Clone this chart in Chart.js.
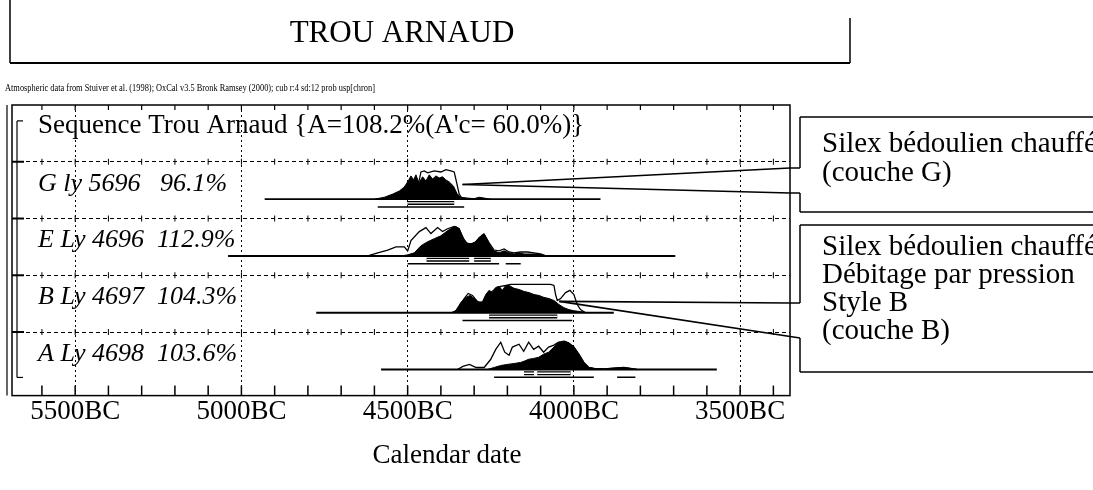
<!DOCTYPE html>
<html>
<head>
<meta charset="utf-8">
<title>Trou Arnaud</title>
<script src="https://cdn.jsdelivr.net/npm/chart.js@4.4.1/dist/chart.umd.min.js"></script>
<style>
  html, body { margin: 0; padding: 0; background: #fff; }
  #wrap { width: 1093px; height: 490px; }
</style>
</head>
<body>
<div id="wrap"><canvas id="oxcal" width="1093" height="490"></canvas></div>
<script>
// Trou Arnaud - OxCal sequence plot, redrawn

const titleText = "TROU ARNAUD";
const noteText = "Atmospheric data from Stuiver et al. (1998); OxCal v3.5 Bronk Ramsey (2000); cub r:4 sd:12 prob usp[chron]";
const seqLabel = "Sequence Trou Arnaud {A=108.2%(A'c= 60.0%)}";
const axisTitle = "Calendar date";
const tickYears = [5500, 5000, 4500, 4000, 3500];

// rows from bottom to top: A, B, E, G
const rowLabels = ["A Ly 4698  103.6%", "B Ly 4697  104.3%", "E Ly 4696  112.9%", "G ly 5696   96.1%"];

// [year BC, % of peak] - outline = unmodelled, black = modelled
const gLike = [[4480,0],[4470,40],[4460,96],[4450,100],[4440,93],[4420,100],[4400,96],[4385,104],[4370,100],[4360,96],[4355,71],[4345,18],[4335,0]];
const gPost = [[4600,0],[4570,7],[4545,18],[4525,29],[4510,43],[4500,61],[4490,82],[4482,68],[4475,86],[4466,57],[4455,79],[4445,64],[4435,86],[4425,71],[4415,82],[4405,75],[4395,79],[4385,68],[4375,61],[4362,46],[4352,21],[4342,7],[4320,4],[4300,2],[4285,7],[4270,4],[4250,0]];

const eLike = [[4620,0],[4590,11],[4560,21],[4535,32],[4510,32],[4500,18],[4490,54],[4465,86],[4445,100],[4430,79],[4410,100],[4395,86],[4380,96],[4360,104],[4345,96],[4335,64],[4320,43],[4300,43],[4285,64],[4270,75],[4255,46],[4240,21],[4225,18],[4210,25],[4195,14],[4180,11],[4160,14],[4140,14],[4120,11],[4100,7],[4085,0]];
const ePost = [[4520,0],[4500,4],[4480,11],[4460,36],[4440,50],[4420,61],[4400,71],[4380,89],[4365,100],[4355,104],[4345,96],[4335,71],[4325,46],[4310,43],[4295,50],[4280,71],[4270,79],[4260,57],[4250,32],[4240,18],[4225,11],[4210,18],[4195,11],[4180,7],[4165,11],[4150,7],[4130,7],[4110,7],[4095,4],[4080,0]];

const bLike = [[4360,0],[4345,21],[4330,50],[4318,68],[4305,61],[4290,39],[4275,36],[4262,54],[4250,71],[4235,86],[4220,93],[4205,96],[4190,100],[4170,100],[4150,100],[4130,100],[4110,100],[4090,100],[4070,100],[4060,96],[4055,64],[4050,43],[4040,50],[4025,71],[4012,79],[4000,64],[3990,29],[3980,11],[3965,0]];
const bPost = [[4370,0],[4355,7],[4340,36],[4325,54],[4312,61],[4300,50],[4285,36],[4275,39],[4265,64],[4255,79],[4245,71],[4235,89],[4225,93],[4215,79],[4205,96],[4195,96],[4180,86],[4165,82],[4150,75],[4135,71],[4120,64],[4105,61],[4090,54],[4075,50],[4060,43],[4045,29],[4030,18],[4015,11],[4000,7],[3980,4],[3960,0]];

const aLike = [[4350,0],[4334,11],[4314,18],[4294,7],[4270,7],[4250,36],[4235,71],[4220,96],[4208,61],[4195,50],[4185,79],[4165,89],[4151,64],[4136,96],[4121,71],[4106,82],[4091,61],[4076,79],[4060,86],[4047,96],[4030,100],[4015,93],[4000,79],[3985,54],[3970,25],[3955,7],[3940,4],[3910,2],[3880,5],[3850,7],[3830,4],[3810,0]];
const aPost = [[4260,0],[4240,7],[4220,14],[4200,18],[4180,21],[4160,25],[4150,29],[4136,36],[4121,39],[4106,43],[4091,54],[4076,61],[4060,79],[4047,96],[4035,96],[4027,100],[4015,93],[4000,79],[3985,54],[3970,25],[3955,7],[3940,4],[3910,2],[3880,5],[3850,7],[3830,4],[3810,0]];

// baseline extent of each row, years BC
const spans = [[4580, 3570], [4775, 3880], [5040, 3695], [4930, 3920]];
// 68.2% and 95.4% ranges, years BC
const r68 = [[[4150, 4120], [4110, 4010]], [[4255, 4050]], [[4443, 4315], [4300, 4250]], [[4500, 4360]]];
const r95 = [[[4240, 3940], [3870, 3815]], [[4335, 4005]], [[4500, 4225], [4205, 4160]], [[4590, 4330]]];

const calloutG = ["Silex bédoulien chauffé", "(couche G)"];
const calloutB = ["Silex bédoulien chauffé", "Débitage par pression", "Style B", "(couche B)"];

const likes = [aLike, bLike, eLike, gLike];
const posts = [aPost, bPost, ePost, gPost];
const BASE = 0.34;  // baseline offset inside a row
const PEAK = 0.5;   // height of 100% in row units
const SERIF = '"Liberation Serif", "Times New Roman", serif';

function curve(pts, row) {
  return pts.map(([yr, p]) => ({ x: -yr, y: row + BASE + (p / 100) * PEAK }));
}

function bars(ranges, row, dy) {
  const out = [];
  ranges.forEach(([a, b]) => {
    out.push({ x: -a, y: row + BASE + dy }, { x: -b, y: row + BASE + dy }, { x: -b, y: null });
  });
  return out;
}

const datasets = [];
rowLabels.forEach((label, i) => {
  datasets.push({ label: label + " unmodelled", data: curve(likes[i], i), borderColor: "#000", borderWidth: 1.3, backgroundColor: "#fff", fill: { value: i + BASE }, order: 4 });
  datasets.push({ label: label + " axis", data: [{ x: -spans[i][0], y: i + BASE }, { x: -spans[i][1], y: i + BASE }], borderColor: "#000", borderWidth: 1.8, fill: false, order: 3 });
  datasets.push({ label: label + " modelled", data: curve(posts[i], i), borderColor: "#000", borderWidth: 1, backgroundColor: "#000", fill: { value: i + BASE }, order: 2 });
  datasets.push({ label: label + " 68%", data: bars(r68[i], i, -0.065), borderColor: "#000", borderWidth: 4, fill: false, order: 2 });
  datasets.push({ label: label + " 68% inner", data: bars(r68[i], i, -0.065), borderColor: "#fff", borderWidth: 1.4, fill: false, order: 1 });
  datasets.push({ label: label + " 95%", data: bars(r95[i], i, -0.135), borderColor: "#000", borderWidth: 1.5, fill: false, order: 2 });
});

function seg(ctx, x1, y1, x2, y2, w) {
  ctx.lineWidth = w || 1.5;
  ctx.beginPath();
  ctx.moveTo(x1, y1);
  ctx.lineTo(x2, y2);
  ctx.stroke();
}

const decor = {
  id: "decor",
  beforeDatasetsDraw(chart) {
    const { ctx, chartArea: a, scales: { x, y } } = chart;
    ctx.save();
    ctx.strokeStyle = "#000";
    // century ticks on the edges and crosses on the row separators
    for (let yr = 5600; yr >= 3400; yr -= 100) {
      const px = x.getPixelForValue(-yr);
      if (px <= a.left || px >= a.right) continue;
      seg(ctx, px, a.top, px, a.top + 5, 1.2);
      seg(ctx, px, a.bottom, px, a.bottom - 10, 1.5);
      for (let g = 1; g <= 4; g++) {
        const py = y.getPixelForValue(g);
        seg(ctx, px, py - 3, px, py + 3, 1);
      }
    }
    for (let g = 1; g <= 4; g++) {
      const py = y.getPixelForValue(g);
      seg(ctx, a.left, py, a.left + 12, py, 2);
    }
    ctx.restore();
  },
  afterDraw(chart) {
    const { ctx, chartArea: a, scales: { x, y }, width: W } = chart;
    ctx.save();
    ctx.strokeStyle = "#000";
    ctx.fillStyle = "#000";

    // title box
    seg(ctx, 10, 0, 10, 63);
    seg(ctx, 10, 63, 850, 63, 2);
    seg(ctx, 850, 18, 850, 63);
    ctx.font = "31px " + SERIF;
    ctx.textAlign = "center";
    ctx.textBaseline = "middle";
    ctx.fillText(titleText, 402, 34);

    // axis title sits right of centre in the original
    ctx.font = "27px " + SERIF;
    ctx.fillText(axisTitle, 447, 456);

    ctx.textAlign = "left";
    ctx.font = "10px " + SERIF;
    ctx.fillText(noteText, 5, 88, 370);

    // frame
    ctx.lineWidth = 1.5;
    ctx.strokeRect(a.left, a.top, a.right - a.left, a.bottom - a.top);
    seg(ctx, a.left - 5, a.top, a.left - 5, a.bottom, 1.2);
    // sequence bracket
    const bt = y.getPixelForValue(4.72), bb = y.getPixelForValue(0.2);
    seg(ctx, a.left + 5, bt, a.left + 5, bb, 1.2);
    seg(ctx, a.left + 5, bt, a.left + 11, bt, 1.2);
    seg(ctx, a.left + 5, bb, a.left + 11, bb, 1.2);

    // row texts
    ctx.font = "27px " + SERIF;
    ctx.fillText(seqLabel, 38, y.getPixelForValue(4.63));
    ctx.font = "italic 26px " + SERIF;
    rowLabels.forEach((t, i) => ctx.fillText(t, 38, y.getPixelForValue(i + 0.61)));

    // callouts
    const bx = a.right + 10;
    const gx = x.getPixelForValue(-4335), gy = y.getPixelForValue(3 + BASE + 0.26);
    const kx = x.getPixelForValue(-4044), ky = y.getPixelForValue(1 + BASE + 0.2);
    seg(ctx, bx, 117, W, 117);
    seg(ctx, bx, 117, bx, 168);
    seg(ctx, a.right, 168, bx, 168);
    seg(ctx, gx, gy, a.right, 168, 1.6);
    seg(ctx, gx, gy, a.right, 193, 1.6);
    seg(ctx, a.right, 193, bx, 193);
    seg(ctx, bx, 193, bx, 212);
    seg(ctx, bx, 212, W, 212);

    seg(ctx, bx, 225, W, 225);
    seg(ctx, bx, 225, bx, 303);
    seg(ctx, a.right, 303, bx, 303);
    seg(ctx, kx, ky, a.right, 303, 1.6);
    seg(ctx, kx, ky, bx, 338, 1.6);
    seg(ctx, bx, 338, bx, 372);
    seg(ctx, bx, 372, W, 372);

    ctx.font = "29px " + SERIF;
    calloutG.forEach((t, i) => ctx.fillText(t, 822, 144 + i * 29));
    calloutB.forEach((t, i) => ctx.fillText(t, 822, 247 + i * 28));
    ctx.restore();
  },
};

new Chart(document.getElementById("oxcal"), {
  type: "line",
  data: { datasets },
  options: {
    responsive: false,
    animation: false,
    devicePixelRatio: 1,
    layout: { padding: { left: 12, right: 303, top: 105, bottom: 62 } },
    elements: { point: { radius: 0 }, line: { tension: 0 } },
    plugins: { legend: { display: false }, tooltip: { enabled: false } },
    scales: {
      x: {
        type: "linear",
        min: -5690,
        max: -3350,
        afterBuildTicks: (s) => { s.ticks = tickYears.map((v) => ({ value: -v })); },
        grid: { color: "#000", lineWidth: 1, drawTicks: false },
        border: { display: false, dash: [2, 3] },
        ticks: {
          color: "#000",
          padding: 0,
          font: { family: SERIF, size: 27 },
          callback: (v) => -v + "BC",
        },
        title: { display: false },
      },
      y: {
        type: "linear",
        min: -0.12,
        max: 5,
        afterBuildTicks: (s) => { s.ticks = [1, 2, 3, 4].map((v) => ({ value: v })); },
        grid: { color: "#000", lineWidth: 1, drawTicks: false },
        border: { display: false, dash: [4, 3] },
        ticks: { display: false },
      },
    },
  },
  plugins: [decor],
});
</script>
</body>
</html>
